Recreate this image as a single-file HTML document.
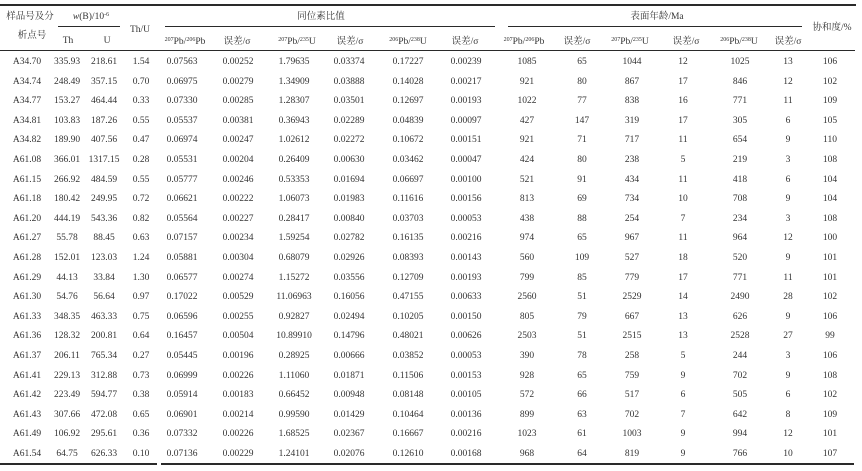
<!DOCTYPE html>
<html><head><meta charset="utf-8">
<style>
html,body{margin:0;padding:0;background:#fff;}
#w{position:relative;width:862px;height:471px;overflow:hidden;font-family:"Liberation Serif","Noto Serif CJK SC",serif;font-size:9.5px;color:#333;}
.l{position:absolute;background:#2a2a2a;}
.t{position:absolute;width:90px;margin-left:-45px;text-align:center;line-height:12px;white-space:nowrap;}
sup{font-size:6px;vertical-align:0;position:relative;top:-3.5px;}
.r{position:absolute;left:0;width:862px;height:12px;}
.r span{position:absolute;top:0;width:70px;margin-left:-35px;text-align:center;line-height:12px;white-space:nowrap;}
.r span:nth-child(1){left:27px}
.r span:nth-child(2){left:67px}
.r span:nth-child(3){left:104px}
.r span:nth-child(4){left:141px}
.r span:nth-child(5){left:182px}
.r span:nth-child(6){left:238px}
.r span:nth-child(7){left:294px}
.r span:nth-child(8){left:349px}
.r span:nth-child(9){left:408px}
.r span:nth-child(10){left:466px}
.r span:nth-child(11){left:527px}
.r span:nth-child(12){left:582px}
.r span:nth-child(13){left:632px}
.r span:nth-child(14){left:683px}
.r span:nth-child(15){left:740px}
.r span:nth-child(16){left:788px}
.r span:nth-child(17){left:830px}
</style></head><body>
<div id="w">
<!-- lines -->
<div class="l" style="left:0;top:4px;width:856px;height:2px;"></div>
<div class="l" style="left:58px;top:26px;width:62px;height:1px;"></div>
<div class="l" style="left:165px;top:26px;width:330px;height:1px;"></div>
<div class="l" style="left:508px;top:26px;width:294px;height:1px;"></div>
<div class="l" style="left:0;top:50px;width:855px;height:1px;"></div>
<div class="l" style="left:0;top:463px;width:157px;height:2px;"></div>
<div class="l" style="left:161px;top:463px;width:693px;height:2px;"></div>

<!-- header -->
<div class="t" style="left:30px;top:11px;">样品号及分</div>
<div class="t" style="left:32px;top:30px;">析点号</div>
<div class="t" style="left:91px;top:11px;"><i>w</i>(B)/10<sup>-6</sup></div>
<div class="t" style="left:68px;top:35px;">Th</div>
<div class="t" style="left:107px;top:35px;">U</div>
<div class="t" style="left:140px;top:24px;">Th/U</div>
<div class="t" style="left:321px;top:11px;">同位素比值</div>
<div class="t" style="left:657px;top:11px;">表面年龄/Ma</div>
<div class="t" style="left:832px;top:22px;">协和度/%</div>

<div class="t" style="left:185px;top:36px;"><sup>207</sup>Pb/<sup>206</sup>Pb</div>
<div class="t" style="left:237px;top:36px;">误差/σ</div>
<div class="t" style="left:297px;top:36px;"><sup>207</sup>Pb/<sup>235</sup>U</div>
<div class="t" style="left:350px;top:36px;">误差/σ</div>
<div class="t" style="left:408px;top:36px;"><sup>206</sup>Pb/<sup>238</sup>U</div>
<div class="t" style="left:465px;top:36px;">误差/σ</div>
<div class="t" style="left:524px;top:36px;"><sup>207</sup>Pb/<sup>206</sup>Pb</div>
<div class="t" style="left:577px;top:36px;">误差/σ</div>
<div class="t" style="left:630px;top:36px;"><sup>207</sup>Pb/<sup>235</sup>U</div>
<div class="t" style="left:686px;top:36px;">误差/σ</div>
<div class="t" style="left:739px;top:36px;"><sup>206</sup>Pb/<sup>238</sup>U</div>
<div class="t" style="left:788px;top:36px;">误差/σ</div>

<!-- data rows -->
<div class="r" style="top:56px"><span>A34.70</span><span>335.93</span><span>218.61</span><span>1.54</span><span>0.07563</span><span>0.00252</span><span>1.79635</span><span>0.03374</span><span>0.17227</span><span>0.00239</span><span>1085</span><span>65</span><span>1044</span><span>12</span><span>1025</span><span>13</span><span>106</span></div>
<div class="r" style="top:75.6px"><span>A34.74</span><span>248.49</span><span>357.15</span><span>0.70</span><span>0.06975</span><span>0.00279</span><span>1.34909</span><span>0.03888</span><span>0.14028</span><span>0.00217</span><span>921</span><span>80</span><span>867</span><span>17</span><span>846</span><span>12</span><span>102</span></div>
<div class="r" style="top:95.2px"><span>A34.77</span><span>153.27</span><span>464.44</span><span>0.33</span><span>0.07330</span><span>0.00285</span><span>1.28307</span><span>0.03501</span><span>0.12697</span><span>0.00193</span><span>1022</span><span>77</span><span>838</span><span>16</span><span>771</span><span>11</span><span>109</span></div>
<div class="r" style="top:114.8px"><span>A34.81</span><span>103.83</span><span>187.26</span><span>0.55</span><span>0.05537</span><span>0.00381</span><span>0.36943</span><span>0.02289</span><span>0.04839</span><span>0.00097</span><span>427</span><span>147</span><span>319</span><span>17</span><span>305</span><span>6</span><span>105</span></div>
<div class="r" style="top:134.4px"><span>A34.82</span><span>189.90</span><span>407.56</span><span>0.47</span><span>0.06974</span><span>0.00247</span><span>1.02612</span><span>0.02272</span><span>0.10672</span><span>0.00151</span><span>921</span><span>71</span><span>717</span><span>11</span><span>654</span><span>9</span><span>110</span></div>
<div class="r" style="top:154px"><span>A61.08</span><span>366.01</span><span>1317.15</span><span>0.28</span><span>0.05531</span><span>0.00204</span><span>0.26409</span><span>0.00630</span><span>0.03462</span><span>0.00047</span><span>424</span><span>80</span><span>238</span><span>5</span><span>219</span><span>3</span><span>108</span></div>
<div class="r" style="top:173.6px"><span>A61.15</span><span>266.92</span><span>484.59</span><span>0.55</span><span>0.05777</span><span>0.00246</span><span>0.53353</span><span>0.01694</span><span>0.06697</span><span>0.00100</span><span>521</span><span>91</span><span>434</span><span>11</span><span>418</span><span>6</span><span>104</span></div>
<div class="r" style="top:193.2px"><span>A61.18</span><span>180.42</span><span>249.95</span><span>0.72</span><span>0.06621</span><span>0.00222</span><span>1.06073</span><span>0.01983</span><span>0.11616</span><span>0.00156</span><span>813</span><span>69</span><span>734</span><span>10</span><span>708</span><span>9</span><span>104</span></div>
<div class="r" style="top:212.8px"><span>A61.20</span><span>444.19</span><span>543.36</span><span>0.82</span><span>0.05564</span><span>0.00227</span><span>0.28417</span><span>0.00840</span><span>0.03703</span><span>0.00053</span><span>438</span><span>88</span><span>254</span><span>7</span><span>234</span><span>3</span><span>108</span></div>
<div class="r" style="top:232.4px"><span>A61.27</span><span>55.78</span><span>88.45</span><span>0.63</span><span>0.07157</span><span>0.00234</span><span>1.59254</span><span>0.02782</span><span>0.16135</span><span>0.00216</span><span>974</span><span>65</span><span>967</span><span>11</span><span>964</span><span>12</span><span>100</span></div>
<div class="r" style="top:252px"><span>A61.28</span><span>152.01</span><span>123.03</span><span>1.24</span><span>0.05881</span><span>0.00304</span><span>0.68079</span><span>0.02926</span><span>0.08393</span><span>0.00143</span><span>560</span><span>109</span><span>527</span><span>18</span><span>520</span><span>9</span><span>101</span></div>
<div class="r" style="top:271.6px"><span>A61.29</span><span>44.13</span><span>33.84</span><span>1.30</span><span>0.06577</span><span>0.00274</span><span>1.15272</span><span>0.03556</span><span>0.12709</span><span>0.00193</span><span>799</span><span>85</span><span>779</span><span>17</span><span>771</span><span>11</span><span>101</span></div>
<div class="r" style="top:291.2px"><span>A61.30</span><span>54.76</span><span>56.64</span><span>0.97</span><span>0.17022</span><span>0.00529</span><span>11.06963</span><span>0.16056</span><span>0.47155</span><span>0.00633</span><span>2560</span><span>51</span><span>2529</span><span>14</span><span>2490</span><span>28</span><span>102</span></div>
<div class="r" style="top:310.8px"><span>A61.33</span><span>348.35</span><span>463.33</span><span>0.75</span><span>0.06596</span><span>0.00255</span><span>0.92827</span><span>0.02494</span><span>0.10205</span><span>0.00150</span><span>805</span><span>79</span><span>667</span><span>13</span><span>626</span><span>9</span><span>106</span></div>
<div class="r" style="top:330.4px"><span>A61.36</span><span>128.32</span><span>200.81</span><span>0.64</span><span>0.16457</span><span>0.00504</span><span>10.89910</span><span>0.14796</span><span>0.48021</span><span>0.00626</span><span>2503</span><span>51</span><span>2515</span><span>13</span><span>2528</span><span>27</span><span>99</span></div>
<div class="r" style="top:350px"><span>A61.37</span><span>206.11</span><span>765.34</span><span>0.27</span><span>0.05445</span><span>0.00196</span><span>0.28925</span><span>0.00666</span><span>0.03852</span><span>0.00053</span><span>390</span><span>78</span><span>258</span><span>5</span><span>244</span><span>3</span><span>106</span></div>
<div class="r" style="top:369.6px"><span>A61.41</span><span>229.13</span><span>312.88</span><span>0.73</span><span>0.06999</span><span>0.00226</span><span>1.11060</span><span>0.01871</span><span>0.11506</span><span>0.00153</span><span>928</span><span>65</span><span>759</span><span>9</span><span>702</span><span>9</span><span>108</span></div>
<div class="r" style="top:389.2px"><span>A61.42</span><span>223.49</span><span>594.77</span><span>0.38</span><span>0.05914</span><span>0.00183</span><span>0.66452</span><span>0.00948</span><span>0.08148</span><span>0.00105</span><span>572</span><span>66</span><span>517</span><span>6</span><span>505</span><span>6</span><span>102</span></div>
<div class="r" style="top:408.8px"><span>A61.43</span><span>307.66</span><span>472.08</span><span>0.65</span><span>0.06901</span><span>0.00214</span><span>0.99590</span><span>0.01429</span><span>0.10464</span><span>0.00136</span><span>899</span><span>63</span><span>702</span><span>7</span><span>642</span><span>8</span><span>109</span></div>
<div class="r" style="top:428.4px"><span>A61.49</span><span>106.92</span><span>295.61</span><span>0.36</span><span>0.07332</span><span>0.00226</span><span>1.68525</span><span>0.02367</span><span>0.16667</span><span>0.00216</span><span>1023</span><span>61</span><span>1003</span><span>9</span><span>994</span><span>12</span><span>101</span></div>
<div class="r" style="top:448px"><span>A61.54</span><span>64.75</span><span>626.33</span><span>0.10</span><span>0.07136</span><span>0.00229</span><span>1.24101</span><span>0.02076</span><span>0.12610</span><span>0.00168</span><span>968</span><span>64</span><span>819</span><span>9</span><span>766</span><span>10</span><span>107</span></div>
</div>
</body></html>
